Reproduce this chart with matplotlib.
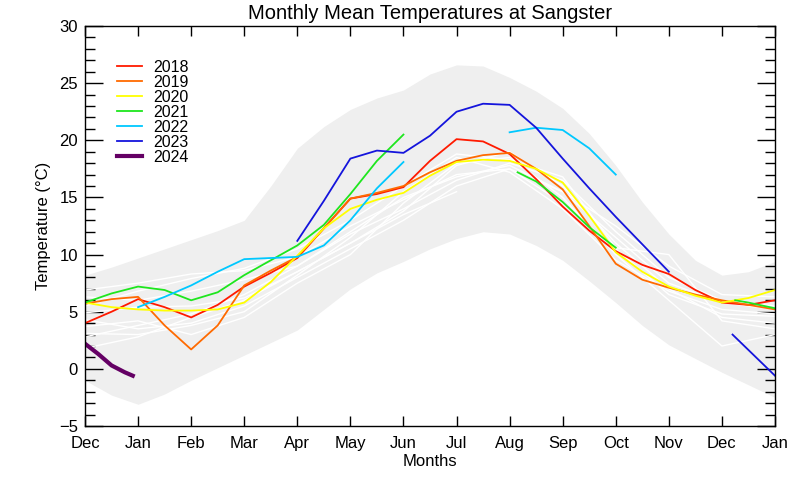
import numpy as np
import matplotlib.pyplot as plt
from matplotlib.ticker import MultipleLocator

plt.rcParams["font.family"] = ["Liberation Sans", "DejaVu Sans"]

month_labels = ["Dec", "Jan", "Feb", "Mar", "Apr", "May", "Jun",
                "Jul", "Aug", "Sep", "Oct", "Nov", "Dec", "Jan"]

# half-month positions, 0 = Dec ... 13 = Jan of the following year
half_months = [i / 2 for i in range(27)]
whole_months = list(range(14))

# envelope of all years (grey band)
band_upper = [8.2, 8.9, 9.7, 10.5, 11.3, 12.1, 13.0, 16.0, 19.3, 21.2, 22.7, 23.7, 24.4, 25.8,
              26.6, 26.5, 25.5, 24.3, 22.8, 20.6, 17.8, 14.6, 11.8, 9.5, 8.2, 8.5, 9.4]
band_lower = [-1.0, -2.3, -3.1, -2.2, -1.0, 0.1, 1.2, 2.3, 3.4, 5.2, 7.0, 8.4, 9.4, 10.5,
              11.4, 12.0, 11.8, 10.8, 9.5, 7.7, 5.8, 3.8, 2.1, 0.9, -0.3, -1.4, -2.5]

# earlier years (white lines), monthly values
nan = np.nan
hist_years = [
    [6.9, 7.5, 8.3, 8.6, 9.8, 12.5, 14.8, 17.0, 17.5, 15.5, 11.5, 7.5, 5.8, 5.2],
    [6.3, 6.0, 6.8, 7.8, 9.0, 11.8, 14.0, 16.5, 18.0, 16.5, 12.0, 8.0, 6.0, 5.5],
    [4.9, 5.4, 5.5, 6.2, 8.5, 11.0, 13.8, 17.8, 19.0, 16.0, 11.0, 7.0, 4.5, 4.0],
    [4.3, 3.5, 4.0, 5.5, 8.0, 10.5, 13.0, 16.0, 17.5, 14.5, 10.5, 6.5, 4.8, 4.6],
    [3.7, 4.2, 3.0, 4.5, 7.5, 10.0, 14.5, 18.0, 18.5, 15.0, 10.0, 6.0, 2.0, 3.0],
    [3.1, 3.0, 3.8, 5.0, 8.2, 11.5, 15.5, 18.5, 17.2, 14.0, 9.5, 6.8, 5.2, 4.8],
    [2.8, 3.8, 4.8, 6.5, 9.0, 12.0, 15.0, 16.8, 17.8, 15.5, 12.5, 9.0, 6.5, 6.3],
    [1.8, 2.8, 4.5, 6.0, 8.5, 11.0, 13.5, 15.5, nan, nan, nan, nan, nan, nan],
    [5.5, 6.8, 7.9, 8.8, 10.5, 13.0, 16.0, 18.8, 18.3, 16.8, 10.6, 10.0, 4.2, 3.5],
]

# recent years, half-month values
t2018 = [4.0, 5.0, 6.1, 5.4, 4.5, 5.6, 7.2, 8.4, 9.7, 12.3, 14.9, 15.3, 15.9, 18.2,
         20.1, 19.9, 18.8, 16.6, 14.2, 12.1, 10.3, 9.1, 8.3, 6.9, 5.8, 5.6, 6.0]
t2019 = [5.7, 6.1, 6.3, 3.8, 1.7, 3.8, 7.3, 8.6, 9.8, 12.3, 14.9, 15.4, 16.0, 17.2,
         18.2, 18.7, 18.9, 17.5, 15.7, 12.5, 9.2, 7.8, 7.1, 6.5, 6.0, 5.6, 5.2]
t2020 = [5.8, 5.4, 5.2, 5.1, 5.1, 5.2, 5.8, 7.6, 9.9, 12.3, 14.0, 14.8, 15.4, 16.9,
         18.1, 18.3, 18.2, 17.5, 16.3, 13.4, 10.2, 8.5, 7.2, 6.4, 5.8, 6.2, 6.9]
t2021_x = [0, 0.5, 1, 1.5, 2, 2.5, 3, 3.5, 4, 4.5, 5, 5.5, 6, 7,
           8.15, 8.5, 9, 9.5, 10, 11, 12.25, 12.5, 13]
t2021 = [5.8, 6.6, 7.2, 6.9, 6.0, 6.7, 8.2, 9.5, 10.8, 12.6, 15.3, 18.2, 20.5, nan,
         17.2, 16.4, 14.6, 12.4, 10.6, nan, 6.0, 5.8, 5.3]
t2022_x = [1, 1.5, 2, 2.5, 3, 3.5, 4, 4.5, 5, 5.5, 6, 7, 8, 8.5, 9, 9.5, 10]
t2022 = [5.4, 6.3, 7.3, 8.5, 9.6, 9.7, 9.8, 10.8, 13.0, 15.8, 18.1, nan, 20.7, 21.1, 20.9, 19.3, 17.0]
t2023_x = [4, 4.5, 5, 5.5, 6, 6.5, 7, 7.5, 8, 8.5, 9, 9.5, 10, 10.5, 11, 12, 12.2, 13]
t2023 = [11.2, 14.7, 18.4, 19.1, 18.9, 20.4, 22.5, 23.2, 23.1, 21.1, 18.4, 15.8, 13.3,
         10.9, 8.5, nan, 3.0, -0.6]
t2024_x = [0, 0.25, 0.5, 0.75, 0.9]
t2024 = [2.2, 1.3, 0.3, -0.3, -0.6]

fig = plt.figure(figsize=(8, 4.8), dpi=100)
ax = fig.add_axes([0.10625, 0.1125, 0.8625, 0.8333])

ax.fill_between(half_months, band_lower, band_upper, color="#efefef", lw=0)

for vals in hist_years:
    ax.plot(whole_months, vals, color="white", lw=1.0)

ax.plot(half_months, t2018, color="#ff1a00", lw=1.3, label="2018")
ax.plot(half_months, t2019, color="#ff6a00", lw=1.3, label="2019")
ax.plot(half_months, t2020, color="#ffff00", lw=1.3, label="2020")
ax.plot(t2021_x, t2021, color="#1ee61e", lw=1.3, label="2021")
ax.plot(t2022_x, t2022, color="#00c8ff", lw=1.3, label="2022")
ax.plot(t2023_x, t2023, color="#1414dc", lw=1.3, label="2023")
ax.plot(t2024_x, t2024, color="#640064", lw=3.0, label="2024")

ax.set_xlim(0, 13)
ax.set_ylim(-5, 30)
ax.set_xticks(whole_months)
ax.set_xticklabels(month_labels)
ax.yaxis.set_major_locator(MultipleLocator(5))
ax.yaxis.set_minor_locator(MultipleLocator(1))
ax.tick_params(axis="x", direction="in", length=7, width=1, top=True, labelsize=12, pad=7)
ax.tick_params(axis="y", which="major", direction="in", length=13, width=1, right=True,
               labelsize=12, pad=5)
ax.tick_params(axis="y", which="minor", direction="in", length=7, width=1, right=True)
for s in ax.spines.values():
    s.set_linewidth(1.0)

ax.set_title("Monthly Mean Temperatures at Sangster", fontsize=14.5, pad=5)
ax.set_xlabel("Months", fontsize=12, labelpad=2)
ax.set_ylabel("Temperature (\u00b0C)", fontsize=12, labelpad=6)

ax.legend(loc="upper left", bbox_to_anchor=(0.035, 0.935), frameon=False, fontsize=11.5,
          handlelength=1.55, handletextpad=0.7, labelspacing=0.0, borderpad=0)

fig.savefig("out.png", dpi=100)
